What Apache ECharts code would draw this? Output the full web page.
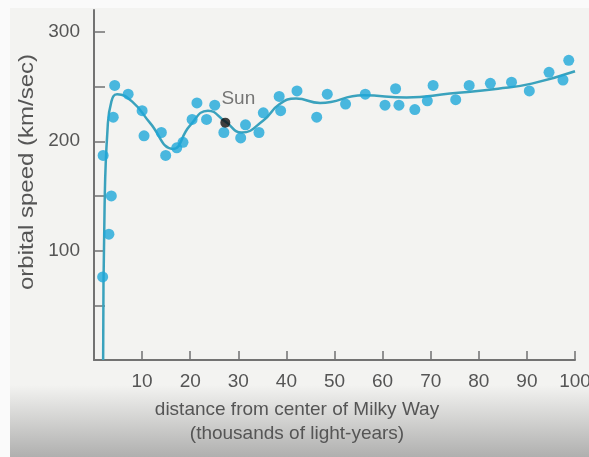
<!DOCTYPE html>
<html>
<head>
<meta charset="utf-8">
<script src="https://cdn.jsdelivr.net/npm/echarts@6/dist/echarts.min.js"></script>
<style>
html,body{margin:0;padding:0;background:#f3f3f1;}
#chart{width:589px;height:457px;}
</style>
</head>
<body>
<div id="chart"></div>
<script>
// Measured data points (distance in thousands of light-years, orbital speed km/s)
var pointX = [1.8, 1.9, 3.1, 3.6, 4.0, 4.3, 7.1, 10.0, 10.4, 14.0, 14.9, 17.2, 18.5, 20.4, 21.4, 23.4, 25.1, 27.0, 30.5, 31.5, 34.3, 35.2, 38.5, 38.8, 42.2, 46.3, 48.5, 52.3, 56.4, 60.5, 62.7, 63.4, 66.7, 69.3, 70.5, 75.2, 78.0, 82.4, 86.8, 90.5, 94.6, 97.5, 98.7];
var pointY = [76, 187, 115, 150, 222, 251, 243, 228, 205, 208, 187, 194, 199, 220, 235, 220, 233, 208, 203, 215, 208, 226, 241, 228, 246, 222, 243, 234, 243, 233, 248, 233, 229, 237, 251, 238, 251, 253, 254, 246, 263, 256, 274];

// Fitted rotation curve
var curveX = [1.9, 2.2, 2.8, 3.6, 4.8, 8.0, 11.6, 16.4, 19.9, 23.7, 27.3, 30.7, 35.2, 38.6, 42.0, 47.0, 56.0, 65.0, 74.0, 84.0, 91.0, 100.0];
var curveY = [0, 140, 210, 236, 243, 236, 217, 193, 214, 228, 218, 208, 219, 234, 239, 235, 242, 240, 243.6, 248, 252.7, 264];

var sunX = 27.3, sunY = 217, sunLabel = 'Sun';

var xTicks = [10, 20, 30, 40, 50, 60, 70, 80, 90, 100];
var yTicks = [50, 100, 150, 200, 250, 300];
var yLabels = [100, 200, 300];

var xTitle = 'distance from center of Milky Way';
var xSubtitle = '(thousands of light-years)';
var yTitle = 'orbital speed (km/sec)';

var pts = pointX.map(function (x, i) { return [x, pointY[i]]; });
var crv = curveX.map(function (x, i) { return [x, curveY[i]]; });

var chart = echarts.init(document.getElementById('chart'));
var font = 'Liberation Sans, Arial, sans-serif';
var txtColor = '#555555';
var axisColor = '#727272';

chart.setOption({
  backgroundColor: '#f3f3f1',
  animation: false,
  graphic: [
    { type: 'rect', z: -10, silent: true, shape: { x: 0, y: 385, width: 589, height: 72 },
      style: { fill: new echarts.graphic.LinearGradient(0, 0, 0, 1, [
        { offset: 0, color: 'rgba(120,120,120,0)' },
        { offset: 1, color: 'rgba(120,120,120,0.55)' }]) } },
    { type: 'rect', z: -9, silent: true, shape: { x: 0, y: 0, width: 10, height: 457 },
      style: { fill: '#fafafa' } },
    { type: 'rect', z: -9, silent: true, shape: { x: 0, y: 0, width: 589, height: 8 },
      style: { fill: '#fafafa' } },
    { type: 'text', z: 10, x: 297, y: 410, style: { text: xTitle, font: '19px ' + font, fill: txtColor, textAlign: 'center', textVerticalAlign: 'middle' } },
    { type: 'text', z: 10, x: 297, y: 434, style: { text: xSubtitle, font: '19px ' + font, fill: txtColor, textAlign: 'center', textVerticalAlign: 'middle' } },
    { type: 'text', z: 10, x: 27, y: 172, rotation: Math.PI / 2, scaleX: 1.2, style: { text: yTitle, font: '20px ' + font, fill: txtColor, textAlign: 'center', textVerticalAlign: 'middle' } }
  ],
  grid: { left: 94, right: 14, top: 10, bottom: 97, outerBoundsMode: 'none', containLabel: false },
  xAxis: {
    type: 'value', min: 0, max: 100,
    splitLine: { show: false },
    axisLine: { show: true, lineStyle: { color: axisColor, width: 2 } },
    axisTick: { show: true, inside: true, length: 9, customValues: xTicks, lineStyle: { color: axisColor, width: 1.5 } },
    axisLabel: { customValues: xTicks, margin: 12, fontSize: 19, color: txtColor, fontFamily: font, hideOverlap: false }
  },
  yAxis: {
    type: 'value', min: 0, max: 320,
    splitLine: { show: false },
    axisLine: { show: true, lineStyle: { color: axisColor, width: 2 } },
    axisTick: { show: true, inside: true, length: 11, customValues: yTicks, lineStyle: { color: axisColor, width: 1.5 } },
    axisLabel: { customValues: yLabels, margin: 14, fontSize: 19, color: txtColor, fontFamily: font }
  },
  series: [
    { type: 'line', data: crv, smooth: 0.5, showSymbol: false,
      lineStyle: { color: '#3aa2bd', width: 2.5 }, z: 2 },
    { type: 'scatter', data: pts, symbolSize: 11, itemStyle: { color: '#1ea7da' }, z: 3 },
    { type: 'scatter', data: [[sunX, sunY]], symbolSize: 10, itemStyle: { color: '#111' }, z: 4,
      label: { show: true, formatter: sunLabel, position: 'top', offset: [13, -4], fontSize: 19, color: txtColor, fontFamily: font } }
  ]
});
</script>
</body>
</html>
